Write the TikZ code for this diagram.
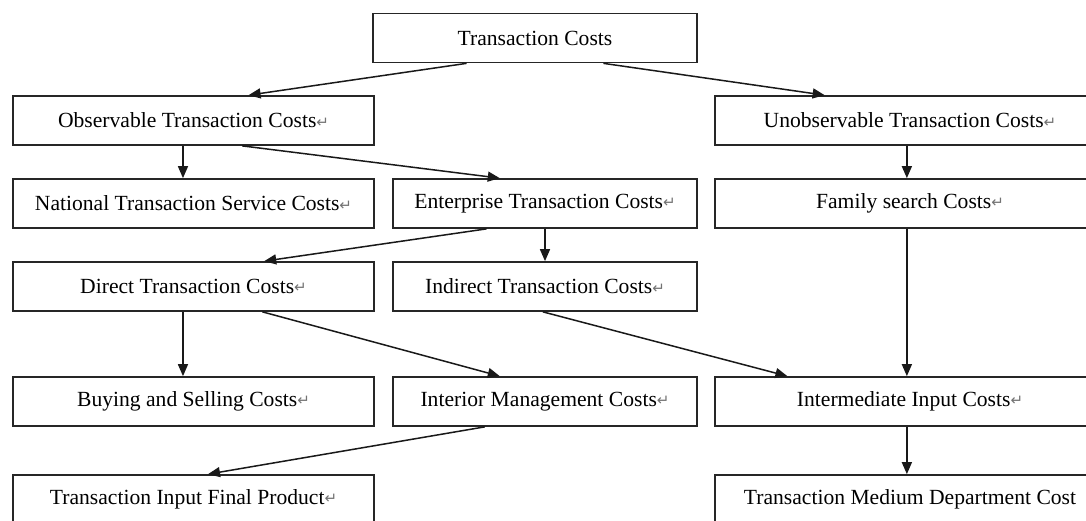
\documentclass[tikz,border=0pt]{standalone}
\usepackage{fontspec}
\setmainfont{Liberation Serif}
\newfontfamily\markfont{DejaVu Sans}
\usetikzlibrary{calc,arrows.meta}
\newcommand{\pmark}{{\markfont\fontsize{7.5}{8}\selectfont\color{black!55}\raisebox{0.1ex}{↵}}}
\tikzset{
  x=0.5pt, y=-0.5pt,
  costbox/.style={draw=black!85, line width=0.85pt, fill=white, inner sep=0pt,
    minimum height=24.5pt, font=\fontsize{10.8}{13}\selectfont},
  narrowbox/.style={costbox, minimum width=180.5pt},
  midbox/.style={costbox, minimum width=152pt},
  widebox/.style={costbox, minimum width=195pt},
  link/.style={draw=black!90, line width=0.75pt, -{Triangle[length=6pt,width=5pt]}},
}
\begin{document}
\begin{tikzpicture}
\useasboundingbox (0,0) rectangle (1086,520);
\clip (0,0) rectangle (1086,520);

% top level
\node[costbox, minimum width=162pt] (tc) at (535,38) {Transaction Costs};

% second level
\node[narrowbox] (obs)   at (193.5,120.5) {Observable Transaction Costs\pmark};
\node[widebox]   (unobs) at (910,120.5)   {Unobservable Transaction Costs\pmark};

% third level
\node[narrowbox] (nat) at (193.5,203.5) {National Transaction Service Costs\pmark};
\node[midbox]    (ent) at (545,203.5)   {Enterprise Transaction Costs\pmark};
\node[widebox]   (fam) at (910,203.5)   {Family search Costs\pmark};

% fourth level
\node[narrowbox] (dir) at (193.5,286.5) {Direct Transaction Costs\pmark};
\node[midbox]    (ind) at (545,286.5)   {Indirect Transaction Costs\pmark};

% fifth level
\node[narrowbox] (buy) at (193.5,401.5) {Buying and Selling Costs\pmark};
\node[midbox]    (int) at (545,401.5)   {Interior Management Costs\pmark};
\node[widebox]   (imd) at (910,401.5)   {Intermediate Input Costs\pmark};

% bottom level
\node[narrowbox] (fin) at (193.5,499.5) {Transaction Input Final Product\pmark};
\node[widebox]   (med) at (910,499.5)   {Transaction Medium Department Cost};

% connectors
\draw[link] ($(tc.south west)!0.29!(tc.south east)$) -- ($(obs.north west)!0.652!(obs.north east)$);
\draw[link] ($(tc.south west)!0.71!(tc.south east)$) -- ($(unobs.north west)!0.282!(unobs.north east)$);

\draw[link] ($(obs.south west)!0.471!(obs.south east)$) -- ($(nat.north west)!0.471!(nat.north east)$);
\draw[link] ($(obs.south west)!0.634!(obs.south east)$) -- ($(ent.north west)!0.352!(ent.north east)$);
\draw[link] ($(unobs.south west)!0.492!(unobs.south east)$) -- ($(fam.north west)!0.492!(fam.north east)$);

\draw[link] ($(ent.south west)!0.309!(ent.south east)$) -- ($(dir.north west)!0.695!(dir.north east)$);
\draw[link] ($(ent.south west)!0.5!(ent.south east)$) -- ($(ind.north west)!0.5!(ind.north east)$);

\draw[link] ($(dir.south west)!0.471!(dir.south east)$) -- ($(buy.north west)!0.471!(buy.north east)$);
\draw[link] ($(dir.south west)!0.69!(dir.south east)$) -- ($(int.north west)!0.352!(int.north east)$);
\draw[link] ($(ind.south west)!0.493!(ind.south east)$) -- ($(imd.north west)!0.187!(imd.north east)$);
\draw[link] ($(fam.south west)!0.492!(fam.south east)$) -- ($(imd.north west)!0.492!(imd.north east)$);

\draw[link] ($(int.south west)!0.303!(int.south east)$) -- ($(fin.north west)!0.54!(fin.north east)$);
\draw[link] ($(imd.south west)!0.492!(imd.south east)$) -- ($(med.north west)!0.492!(med.north east)$);
\end{tikzpicture}
\end{document}
